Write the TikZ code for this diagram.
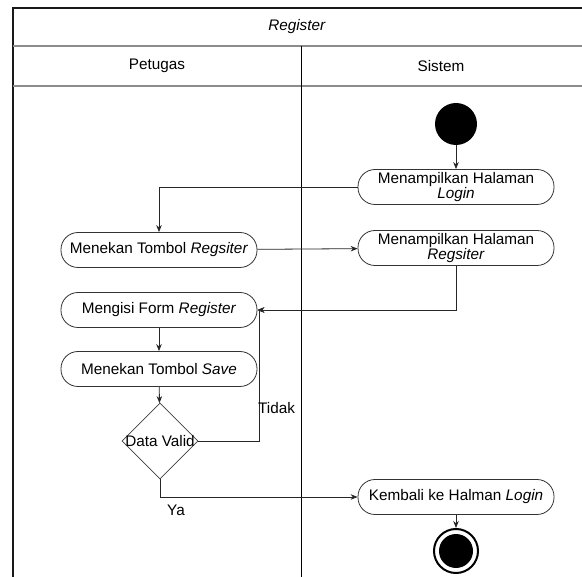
\documentclass[tikz,border=0pt]{standalone}
\usepackage{fontspec}
\setmainfont{Liberation Sans}
\usetikzlibrary{shapes.geometric,arrows.meta}
\begin{document}
\begin{tikzpicture}[x=1pt,y=-1pt,
  every node/.style={font=\fontsize{15.3}{15}\selectfont},
  act/.style={draw=black!80, line width=0.8pt, rounded corners=17pt, minimum width=196pt,
    minimum height=35pt, align=center, inner sep=1pt},
  decision/.style={draw=black!75, line width=0.8pt, diamond, aspect=1, minimum width=76pt,
    minimum height=76pt, inner sep=0pt},
  arr/.style={draw=black!85, line width=0.8pt, -{Stealth[length=7pt,width=5.5pt]}},
  lane/.style={line width=0.8pt, black},
  sep/.style={line width=1.2pt, black!45}]
\useasboundingbox (0,0) rectangle (582,577);
\fill[white] (0,0) rectangle (582,577);

% swimlane frame
\draw[line width=1.4pt, black!90] (582,8) -- (13,8) -- (13,577);
\draw[sep] (13,46) -- (582,46);
\draw[sep] (13,86) -- (582,86);
\draw[lane] (301,46) -- (301,577);
\node (title) at (297,27) {\textit{Register}};
\node (lp) at (157,66) {Petugas};
\node (ls) at (441,66) {Sistem};

% activities
\node[circle, fill=black, minimum size=42pt, inner sep=0pt] (start) at (456,124) {};
\node[act] (login) at (456,187) {Menampilkan Halaman\\\textit{Login}};
\node[act] (tregis) at (159,250) {Menekan Tombol \textit{Regsiter}};
\node[act] (sregis) at (456,248) {Menampilkan Halaman\\\textit{Regsiter}};
\node[act] (form) at (159,310) {Mengisi Form \textit{Register}};
\node[act] (save) at (159,369) {Menekan Tombol \textit{Save}};
\node[decision] (dec) at (160,441) {};
\node (dectxt) at (dec.center) {Data Valid};
\node[act] (back) at (456,497) {Kembali ke Halman \textit{Login}};
\node[circle, draw=black, line width=2pt, minimum size=44pt, inner sep=0pt] (end) at (456,551) {};
\fill[black] (end.center) circle (17pt);

% flow
\draw[arr] (start) -- (login);
\draw[arr] (login.west) -| (tregis.north);
\draw[arr] (tregis) -- (sregis);
\draw[arr] (sregis.south) |- (form.east);
\draw[arr] (form) -- (save);
\draw[arr] (save) -- (dec);
\coordinate (loop) at (259,441);
\draw[arr] (dec.east) -- (loop) |- (form.east);
\node[anchor=west, inner sep=0pt] (tidak) at (258,408) {Tidak};
\draw[arr] (dec.south) |- (back.west);
\node (ya) at (176,510) {Ya};
\draw[arr] (back) -- (end);
\end{tikzpicture}
\end{document}
